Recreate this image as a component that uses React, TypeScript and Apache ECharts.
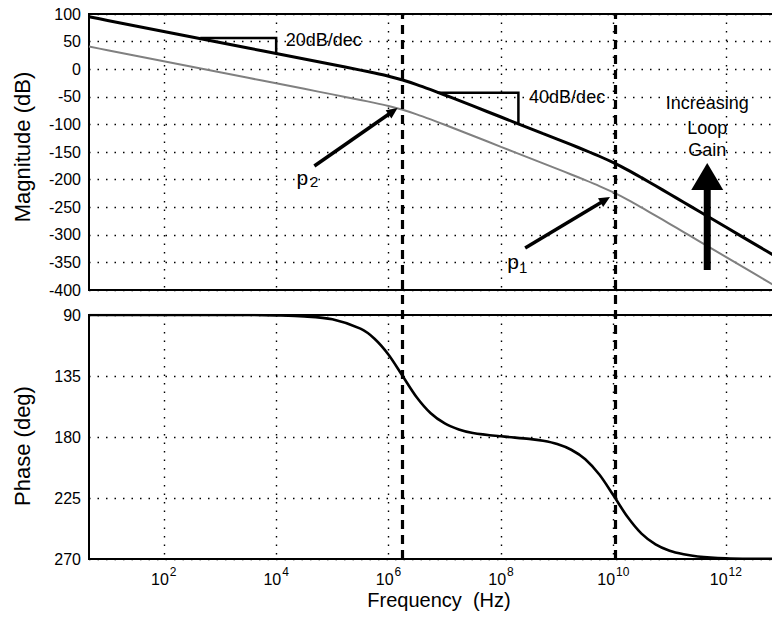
import React, { useEffect, useRef } from 'react';
import * as echarts from 'echarts';

// log10 of frequency (Hz) at which values were read
const freqLog = [0.67, 1, 1.5, 2, 2.5, 3, 3.5, 4, 4.5, 5, 5.5, 5.75, 6, 6.25, 6.5, 6.75, 7, 7.25, 7.5, 8, 8.5, 8.75, 9, 9.25, 9.5, 9.75, 10, 10.25, 10.5, 10.75, 11, 11.25, 11.5, 12, 12.5, 13];
// magnitude (dB), higher loop gain (black)
const magHigh = [95, 88.4, 78.4, 68.4, 58.4, 48.4, 38.4, 28.4, 18.4, 8.4, -1.7, -7.0, -12.8, -19.6, -27.8, -37.0, -46.7, -56.6, -66.6, -86.6, -106.6, -116.6, -126.6, -136.7, -147.0, -157.7, -169.3, -182.3, -196.5, -211.2, -226.1, -241.0, -256.0, -286.0, -316.0, -346.0];
// magnitude (dB), lower loop gain (grey)
const magLow = [41, 34.4, 24.4, 14.4, 4.4, -5.6, -15.6, -25.6, -35.6, -45.6, -55.7, -61.0, -66.8, -73.6, -81.8, -91.0, -100.7, -110.6, -120.6, -140.6, -160.6, -170.6, -180.6, -190.7, -201.0, -211.7, -223.3, -236.3, -250.5, -265.2, -280.1, -295.0, -310.0, -340.0, -370.0, -400.0];
// phase (deg)
const phaseDeg = [90, 90, 90, 90, 90, 90, 90, 90.3, 91.0, 93.2, 100.1, 107.5, 119.3, 135.0, 150.7, 162.5, 170.0, 174.4, 177.0, 179.5, 181.4, 182.8, 185.2, 189.4, 196.4, 207.7, 223.0, 238.9, 251.3, 259.2, 263.9, 266.5, 268.1, 269.4, 269.8, 269.9];
// pole frequencies (log10 Hz): p2, p1
const poleFreqLog = [6.25, 10.03];
const decadeTicks = [2, 4, 6, 8, 10, 12];
const xRange = [0.67, 13];
const magRange = [-400, 100];
const phaseRange = [90, 270];

const FONT = '"Liberation Sans", Arial, Helvetica, sans-serif';

export default function App() {
  const ref = useRef<HTMLDivElement>(null);
  useEffect(() => {
    const chart = echarts.init(ref.current!, null, { renderer: 'svg' });
    const gridLine = { show: true, lineStyle: { color: '#000', width: 1.4, type: [1.5, 7] as any } };
    const xBase: any = {
      type: 'value', min: xRange[0], max: xRange[1],
      axisLine: { show: false },
      axisTick: { show: false, customValues: decadeTicks },
      splitLine: gridLine,
    };
    const yLabel = { fontSize: 16, color: '#000', fontFamily: FONT, margin: 8 };
    const nameStyle = { fontSize: 22, color: '#000', fontFamily: FONT };
    const gridBase = { left: 89, width: 693, outerBoundsMode: 'none', containLabel: false };
    const option: any = {
      animation: false,
      backgroundColor: '#fff',
      grid: [
        { ...gridBase, top: 14, height: 276, show: true, borderColor: '#000', borderWidth: 2, backgroundColor: '#fff' },
        { ...gridBase, top: 315, height: 244, show: true, borderColor: '#000', borderWidth: 2, backgroundColor: '#fff' },
        { ...gridBase, top: 14, height: 545, show: false },
      ],
      xAxis: [
        { ...xBase, gridIndex: 0, axisLabel: { show: false } },
        {
          ...xBase, gridIndex: 1,
          axisLabel: {
            show: true, customValues: decadeTicks, margin: 7,
            formatter: (v: number) => `{b|10}{s|${v}}`,
            rich: {
              b: { fontSize: 16, fontFamily: FONT, color: '#000', verticalAlign: 'bottom' },
              s: { fontSize: 12, fontFamily: FONT, color: '#000', verticalAlign: 'bottom', padding: [0, 0, 9, 1] },
            },
          },
          name: 'Frequency  (Hz)', nameLocation: 'middle', nameGap: 31,
          nameTextStyle: { ...nameStyle, fontSize: 20, padding: [0, 0, 0, 7] },
        },
        { type: 'value', gridIndex: 2, min: xRange[0], max: xRange[1], show: false },
      ],
      yAxis: [
        {
          type: 'value', gridIndex: 0, min: magRange[0], max: magRange[1], interval: 50,
          axisLine: { show: false }, axisTick: { show: false }, splitLine: gridLine, axisLabel: yLabel,
          name: 'Magnitude (dB)', nameLocation: 'middle', nameGap: 56,
          nameTextStyle: { ...nameStyle, padding: [0, 0, 0, 10] },
        },
        {
          type: 'value', gridIndex: 1, min: phaseRange[0], max: phaseRange[1], interval: 45, inverse: true,
          axisLine: { show: false }, axisTick: { show: false }, splitLine: gridLine, axisLabel: yLabel,
          name: 'Phase (deg)', nameLocation: 'middle', nameGap: 56,
          nameTextStyle: { ...nameStyle, padding: [0, 18, 0, 0] },
        },
        { type: 'value', gridIndex: 2, min: 0, max: 1, show: false },
      ],
      series: [
        {
          type: 'line', xAxisIndex: 0, yAxisIndex: 0, showSymbol: false, smooth: 0.3, z: 4,
          lineStyle: { color: '#808080', width: 2 },
          data: freqLog.map((f, i) => [f, magLow[i]]),
        },
        {
          type: 'line', xAxisIndex: 0, yAxisIndex: 0, showSymbol: false, smooth: 0.3, z: 5,
          lineStyle: { color: '#000', width: 3 },
          data: freqLog.map((f, i) => [f, magHigh[i]]),
        },
        {
          type: 'line', xAxisIndex: 1, yAxisIndex: 1, showSymbol: false, smooth: 0.3, z: 5,
          lineStyle: { color: '#000', width: 2.6 },
          data: freqLog.map((f, i) => [f, phaseDeg[i]]),
        },
        {
          type: 'line', xAxisIndex: 2, yAxisIndex: 2, showSymbol: false, data: [], z: 6,
          markLine: {
            silent: true, symbol: ['none', 'none'], label: { show: false },
            lineStyle: { color: '#000', width: 3.2, type: [9, 6] },
            data: poleFreqLog.map((v) => ({ xAxis: v })),
          },
        },
      ],
    };
    chart.setOption(option);

    const P = (x: number, y: number) => chart.convertToPixel({ gridIndex: 0 }, [x, y]) as number[];
    const arrow = (t0: number[], t1: number[], w: number, headLen: number, headHalf: number) => {
      const dx = t1[0] - t0[0], dy = t1[1] - t0[1];
      const L = Math.hypot(dx, dy);
      const ux = dx / L, uy = dy / L;
      const bx = t1[0] - ux * headLen, by = t1[1] - uy * headLen;
      return [
        { type: 'line', z: 20, shape: { x1: t0[0], y1: t0[1], x2: bx + ux * 1, y2: by + uy * 1 }, style: { stroke: '#000', lineWidth: w } },
        { type: 'polygon', z: 20, shape: { points: [[t1[0], t1[1]], [bx - uy * headHalf, by + ux * headHalf], [bx + uy * headHalf, by - ux * headHalf]] }, style: { fill: '#000' } },
      ];
    };
    const text = (t: string, p: number[], size: number, align: string) => ({
      type: 'text', z: 20, x: p[0], y: p[1],
      style: { text: t, fill: '#000', fontSize: size, fontFamily: FONT, textAlign: align, align, textVerticalAlign: 'middle', verticalAlign: 'middle' },
    });
    const t20a = P(2.65, 56.5), t20b = P(4, 56.5), t20c = P(4, 28.4);
    const t40a = P(6.87, -42.5), t40b = P(8.31, -42.5), t40c = P(8.31, -99);
    const graphic: any[] = [
      { type: 'polyline', z: 20, shape: { points: [t20a, t20b, t20c] }, style: { stroke: '#000', lineWidth: 2.5, fill: null } },
      { type: 'polyline', z: 20, shape: { points: [t40a, t40b, t40c] }, style: { stroke: '#000', lineWidth: 2.5, fill: null } },
      text('20dB/dec', P(4.17, 52.9), 18, 'left'),
      text('40dB/dec', P(8.5, -50.4), 18, 'left'),
      ...arrow(P(4.68, -175.4), P(6.16, -70.3), 3.5, 11, 5),
      ...arrow(P(8.43, -323.9), P(9.94, -231.5), 3.5, 11, 5),
      text('p', P(4.36, -195.3), 21, 'left'),
      text('2', P(4.6, -204.3), 15, 'left'),
      text('p', P(8.11, -349), 21, 'left'),
      text('1', P(8.32, -360), 15, 'left'),
      text('Increasing', P(11.67, -61), 18, 'center'),
      text('Loop', P(11.67, -106.5), 18, 'center'),
      text('Gain', P(11.67, -146), 18, 'center'),
    ];
    const aBase = P(11.67, -363.8), aHeadBase = P(11.67, -218.8), aTip = P(11.67, -170);
    const headLen = aHeadBase[1] - aTip[1];
    graphic.push(...arrow(aBase, aTip, 7, headLen, 16));
    chart.setOption({ graphic });

    return () => chart.dispose();
  }, []);
  return <div ref={ref} style={{ position: 'fixed', left: 0, top: 0, width: 772, height: 619, background: '#fff' }} />;
}
